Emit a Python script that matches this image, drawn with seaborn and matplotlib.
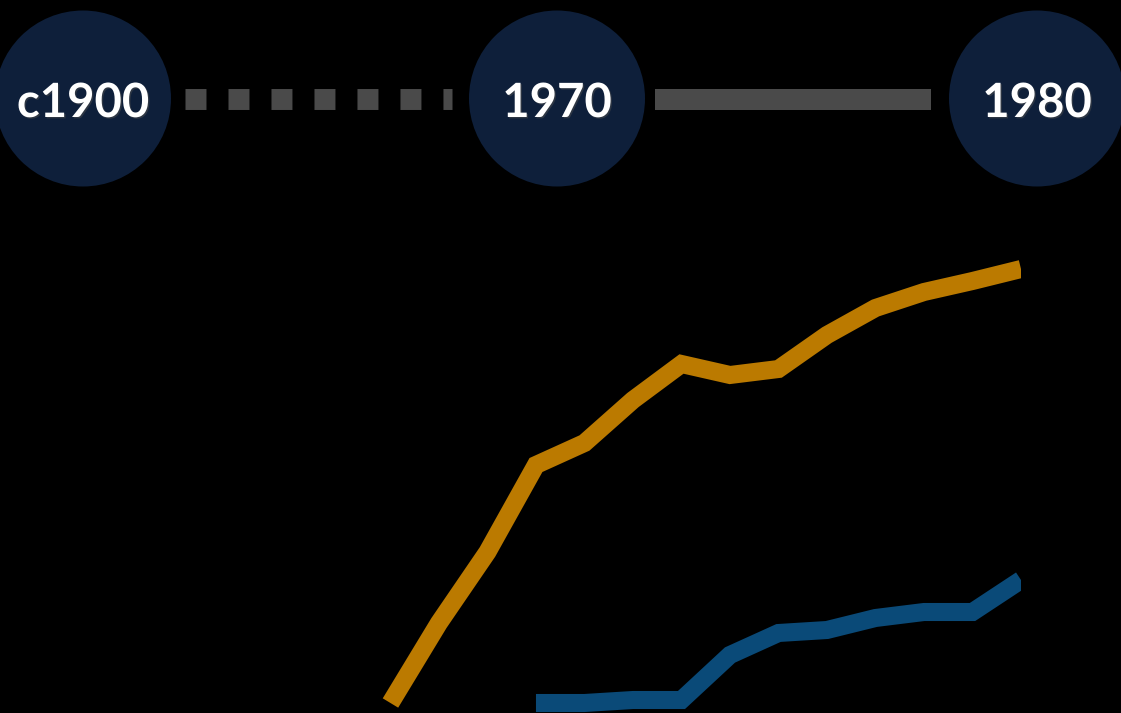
import matplotlib
matplotlib.use("Agg")
import matplotlib.pyplot as plt
from matplotlib.patches import Circle, Rectangle
import matplotlib.patheffects as pe
import pandas as pd
import seaborn as sns

# Series values (arbitrary units, 0 = baseline)
orange_years = [1967, 1968, 1969, 1970, 1971, 1972, 1973, 1974, 1975, 1976, 1977, 1978, 1979, 1980]
orange_values = [0, 16, 30.2, 47.6, 52, 60.6, 67.8, 65.6, 66.8, 73.6, 79, 82.2, 84.4, 86.8]
blue_years = [1970, 1971, 1972, 1973, 1974, 1975, 1976, 1977, 1978, 1979, 1980]
blue_values = [0, 0, 0.6, 0.6, 9.6, 14, 14.6, 17, 18.2, 18.2, 24.6]

# Timeline labels at the top
milestones = ["c1900", "1970", "1980"]

sns.set_theme(style="dark")
plt.rcParams["font.family"] = ["Lato", "DejaVu Sans"]

fig = plt.figure(figsize=(11.21, 7.13), dpi=100, facecolor="black")

# main line chart; right edge of the axes cuts the lines off at 1980
ax = fig.add_axes([0, 0, 1021 / 1121, 1])
ax.set_facecolor("black")
df_o = pd.DataFrame({"year": orange_years, "value": orange_values})
df_b = pd.DataFrame({"year": blue_years, "value": blue_values})
sns.lineplot(data=df_o, x="year", y="value", ax=ax, color="#bb7a00",
             linewidth=13, solid_capstyle="projecting", solid_joinstyle="miter")
sns.lineplot(data=df_b, x="year", y="value", ax=ax, color="#0a4a78",
             linewidth=13, solid_capstyle="butt", solid_joinstyle="miter")
ax.lines[0].set_solid_capstyle("butt")
ax.set_xlim(1958.95, 1980.0)
ax.set_ylim(-2, 140.6)
ax.axis("off")

# header timeline in pixel coordinates
hx = fig.add_axes([0, 0, 1, 1])
hx.set_xlim(0, 1121)
hx.set_ylim(713, 0)
hx.axis("off")
hx.patch.set_alpha(0)

navy = "#0e1f3a"
grey = "#4a4a4a"
centers = [83, 557, 1037]

# dotted connector
hx.plot([185, 452], [99, 99], color=grey, linewidth=15.1,
        linestyle=(0, (1.0, 1.05)), dash_capstyle="butt")
# solid connector
hx.add_patch(Rectangle((655, 88.5), 276, 21, color=grey, lw=0))

for cx, lab in zip(centers, milestones):
    hx.add_patch(Circle((cx, 98.5), 88, color=navy, lw=0))
    hx.text(cx, 103, lab, color="white", fontsize=34, fontweight="bold",
            ha="center", va="center",
            path_effects=[pe.withSimplePatchShadow(offset=(1, -1), alpha=0.5)])

fig.savefig("out.png", dpi=100, facecolor="black")
plt.close()
